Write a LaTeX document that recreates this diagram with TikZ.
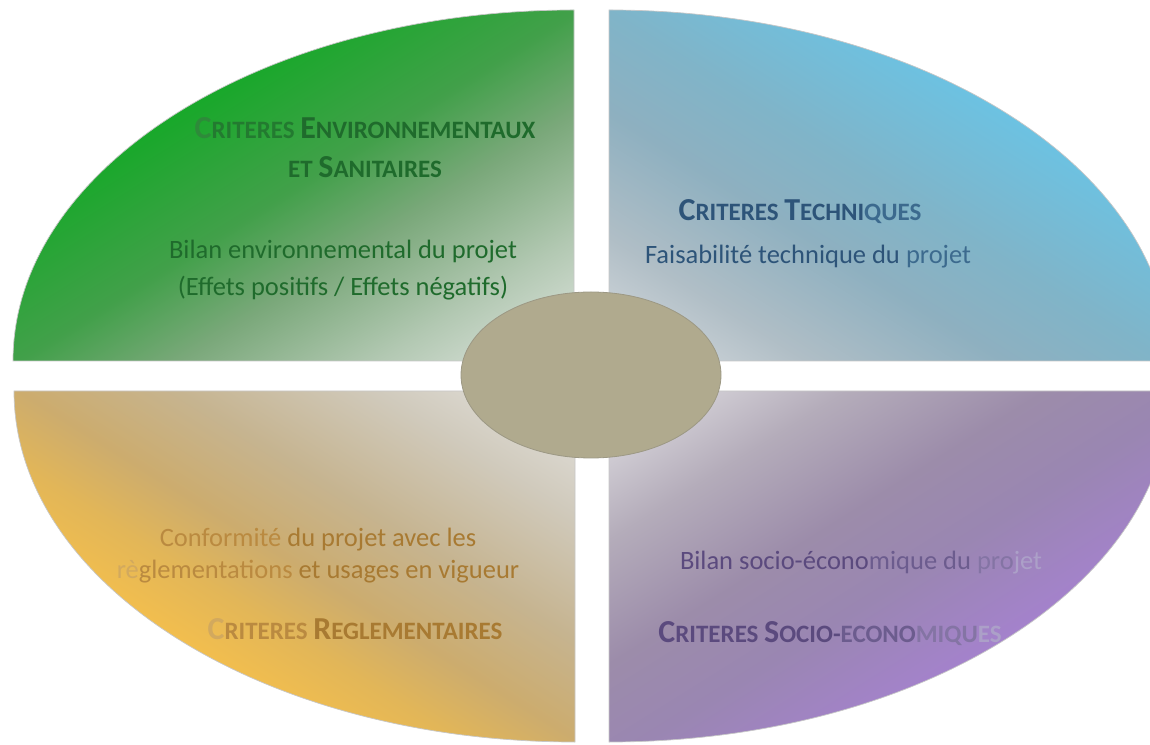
\documentclass[tikz,border=0pt]{standalone}
\usepackage{fontspec}
\setmainfont{Carlito}
\usetikzlibrary{shapes.geometric}
% quadrant gradient colours (from inner corner to outer rim, along the diagonal)
\definecolor{tlA}{HTML}{E2E6E2}
\definecolor{tlB}{HTML}{B2C8B2}
\definecolor{tlC}{HTML}{7AA87A}
\definecolor{tlD}{HTML}{42A04A}
\definecolor{tlE}{HTML}{18A82A}
\definecolor{trA}{HTML}{DADDE0}
\definecolor{trB}{HTML}{B0BEC6}
\definecolor{trC}{HTML}{8EB0C0}
\definecolor{trD}{HTML}{80B4C8}
\definecolor{trE}{HTML}{6CC2E2}
\definecolor{blA}{HTML}{E4E3E0}
\definecolor{blB}{HTML}{D0CABC}
\definecolor{blC}{HTML}{C6B490}
\definecolor{blD}{HTML}{CCAC6E}
\definecolor{blF}{HTML}{E2B658}
\definecolor{blE}{HTML}{F2BE4E}
\definecolor{brA}{HTML}{E4E4E6}
\definecolor{brB}{HTML}{B4ACBA}
\definecolor{brC}{HTML}{9C8CAA}
\definecolor{brD}{HTML}{9A86B2}
\definecolor{brE}{HTML}{A482CC}
\definecolor{hub}{HTML}{B0AA8E}
\definecolor{hubedge}{HTML}{9C9884}
% text colours
\definecolor{tlText}{HTML}{1F6B2C}
\definecolor{tlFadeA}{HTML}{2E8A3A}
\definecolor{tlFadeB}{HTML}{237A30}
\definecolor{trText}{HTML}{2D5479}
\definecolor{trFade}{HTML}{3C6A8E}
\definecolor{blText}{HTML}{A87A32}
\definecolor{blFadeA}{HTML}{D2A95E}
\definecolor{blFadeB}{HTML}{BA8A40}
\definecolor{brText}{HTML}{5B4A7E}
\definecolor{brFadeA}{HTML}{6C5C8E}
\definecolor{brFadeB}{HTML}{8474A4}
\definecolor{brFadeC}{HTML}{ACA0C8}
\pgfdeclareverticalshading{shTL}{100bp}{color(0bp)=(tlA); color(25bp)=(tlA); color(37.5bp)=(tlB); color(50bp)=(tlC); color(60bp)=(tlD); color(75bp)=(tlE); color(100bp)=(tlE)}
\pgfdeclareverticalshading{shTR}{100bp}{color(0bp)=(trA); color(25bp)=(trA); color(37.5bp)=(trB); color(50bp)=(trC); color(60bp)=(trD); color(75bp)=(trE); color(100bp)=(trE)}
\pgfdeclareverticalshading{shBL}{100bp}{color(0bp)=(blA); color(25bp)=(blA); color(37.5bp)=(blB); color(50bp)=(blC); color(60bp)=(blD); color(67.5bp)=(blF); color(75bp)=(blE); color(100bp)=(blE)}
\pgfdeclareverticalshading{shBR}{100bp}{color(0bp)=(brA); color(25bp)=(brA); color(40bp)=(brB); color(52.5bp)=(brC); color(62.5bp)=(brD); color(75bp)=(brE); color(100bp)=(brE)}
\newcommand\capBig[1]{{\fontsize{32pt}{36pt}\selectfont #1}}
\newcommand\capSmall[1]{{\fontsize{25pt}{30pt}\selectfont #1}}
\begin{document}
\begin{tikzpicture}[x=1pt,y=1pt,
  edgeline/.style={draw=black!22, line width=0.7pt},
  titletext/.style={font=\bfseries, anchor=base, inner sep=0pt},
  bodytext/.style={font=\fontsize{26.5pt}{32pt}\selectfont, anchor=base, inner sep=0pt}]
\useasboundingbox (0,0) rectangle (1150,744);
\clip (0,0) rectangle (1150,744);
% top-left quadrant
\begin{scope}
  \clip (574,383) -- (13,383) arc[start angle=180, end angle=90, x radius=561, y radius=351] -- cycle;
  \begin{scope}[transform canvas={shift={(574,383)}, xscale=5.61, yscale=3.51, rotate=45}]
    \shade[shading=shTL] (-100,0) rectangle (100,100);
  \end{scope}
\end{scope}
\path[edgeline] (574,383) -- (13,383) arc[start angle=180, end angle=90, x radius=561, y radius=351] -- cycle;
% top-right quadrant
\begin{scope}
  \clip (609,383) -- (609,734) arc[start angle=90, end angle=0, x radius=561, y radius=351] -- cycle;
  \begin{scope}[transform canvas={shift={(609,383)}, xscale=5.61, yscale=3.51, rotate=-45}]
    \shade[shading=shTR] (-100,0) rectangle (100,100);
  \end{scope}
\end{scope}
\path[edgeline] (609,383) -- (609,734) arc[start angle=90, end angle=0, x radius=561, y radius=351] -- cycle;
% bottom-left quadrant
\begin{scope}
  \clip (575,353) -- (14,353) arc[start angle=180, end angle=270, x radius=561, y radius=351] -- cycle;
  \begin{scope}[transform canvas={shift={(575,353)}, xscale=5.61, yscale=3.51, rotate=135}]
    \shade[shading=shBL] (-100,0) rectangle (100,100);
  \end{scope}
\end{scope}
\path[edgeline] (575,353) -- (14,353) arc[start angle=180, end angle=270, x radius=561, y radius=351] -- cycle;
% bottom-right quadrant
\begin{scope}
  \clip (609,353) -- (609,2) arc[start angle=270, end angle=360, x radius=561, y radius=351] -- cycle;
  \begin{scope}[transform canvas={shift={(609,353)}, xscale=5.61, yscale=3.51, rotate=-135}]
    \shade[shading=shBR] (-100,0) rectangle (100,100);
  \end{scope}
\end{scope}
\path[edgeline] (609,353) -- (609,2) arc[start angle=270, end angle=360, x radius=561, y radius=351] -- cycle;
% centre
\node[ellipse, draw=hubedge, fill=hub, line width=0.8pt, minimum width=260pt, minimum height=166pt, inner sep=0pt] (hub) at (591,369) {};
% texts top-left
\node[titletext, text=tlText] (tlT1) at (365,605) {\textcolor{tlFadeA}{\capBig{C}}\textcolor{tlFadeB}{\capSmall{RITERES }}\capBig{E}\capSmall{NVIRONNEMENTAUX}};
\node[titletext, text=tlText] (tlT2) at (365,566) {\capSmall{ET }\capBig{S}\capSmall{ANITAIRES}};
\node[bodytext, text=tlText] (tlB1) at (343,485) {Bilan environnemental du projet};
\node[bodytext, text=tlText] (tlB2) at (343,448) {(Effets positifs / Effets négatifs)};
% texts top-right
\node[titletext, text=trText] (trT) at (800,523) {\capBig{C}\capSmall{RITERES }\capBig{T}\capSmall{ECHNI}\textcolor{trFade}{\capSmall{QUES}}};
\node[bodytext, text=trText] (trB) at (808,480) {Faisabilité technique du \textcolor{trFade}{projet}};
% texts bottom-left
\node[bodytext, text=blText] (blB1) at (318,197) {\textcolor{blFadeB}{Conformité} du projet avec les};
\node[bodytext, text=blText] (blB2) at (318,165) {\textcolor{blFadeA}{rè}\textcolor{blFadeB}{glementations} et usages en vigueur};
\node[titletext, text=blText] (blT) at (355,105) {\textcolor{blFadeA}{\capBig{C}}\textcolor{blFadeB}{\capSmall{RITERES }}\capBig{R}\capSmall{EGLEMENTAIRES}};
% texts bottom-right
\node[bodytext, text=brText] (brB) at (861,174) {Bilan socio-écono\textcolor{brFadeA}{mique du }\textcolor{brFadeB}{pro}\textcolor{brFadeC}{jet}};
\node[titletext, text=brText] (brT) at (830,102) {\capBig{C}\capSmall{RITERES }\capBig{S}\capSmall{OCIO-}\textcolor{brFadeA}{\capSmall{ECONO}}\textcolor{brFadeB}{\capSmall{MIQU}}\textcolor{brFadeC}{\capSmall{ES}}};
\end{tikzpicture}
\end{document}
